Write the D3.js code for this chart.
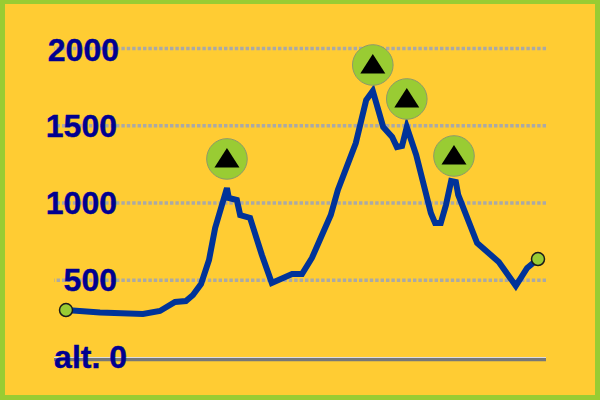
<!DOCTYPE html>
<html lang="en">
<head>
  <meta charset="UTF-8" />
  <title>Altitude profile</title>
  <script src="https://d3js.org/d3.v7.min.js" charset="utf-8"></script>
  <style type="text/css">
  html, body { margin: 0; padding: 0; }
  svg { display: block; }
  .axis path.domain { stroke: none; }
  .axis text {
    font: bold 32px "Liberation Sans", Arial, sans-serif;
    fill: #000090;
    stroke: #000090;
    stroke-width: 0.4;
  }
  .axis .tick line {
    stroke: #aaa9a6;
    stroke-width: 3.5;
    stroke-dasharray: 3.4,2;
  }
  .axis .tick.zero line {
    stroke: #777;
    stroke-dasharray: none;
  }
  .axis .tick.zero line.shine {
    stroke: #ddd;
    stroke-width: 1.2;
  }
  </style>
</head>
<body>
<script type="text/javascript">

// distance along the route (km) and altitude (m)
var distance = [0, 7.2, 16.3, 19.9, 23.1, 25.4, 26.9, 28.6, 30.3, 31.6, 34.1, 34.5, 36.2, 36.9, 39,
  41.5, 43.6, 47.9, 50, 52.1, 56.1, 57.6, 61.4, 63.6, 65, 67.2, 69.1, 70.1, 71.2, 72.2, 74.2,
  77.3, 78.2, 79.4, 80.5, 81.6, 82.6, 83.1, 87.1, 91.7, 95.3, 97.7, 100];
var altitude = [304, 288, 278, 298, 356, 362, 401, 472, 628, 835, 1094, 1029, 1016, 919, 900,
  660, 479, 537, 537, 641, 919, 1081, 1385, 1663, 1722, 1489, 1424, 1359, 1366, 1489, 1307,
  932, 867, 867, 984, 1139, 1133, 1049, 738, 615, 460, 576, 634];

var tickValues = [0, 500, 1000, 1500, 2000];
var tickLabels = ["alt. 0", "500", "1000", "1500", "2000"];

// summit badges
var peakDistance = [34.1, 65, 72.2, 82.2];
var peakBadgeAltitude = [1282, 1890, 1670, 1301];

var width = 600,
    height = 400;

var x = d3.scaleLinear().domain([0, 100]).range([66, 538]);
var y = d3.scaleLinear().domain([0, 2000]).range([357, 48]);

var svg = d3.select("body").append("svg")
  .attr("width", width)
  .attr("height", height);

svg.append("rect")
  .attr("width", width)
  .attr("height", height)
  .attr("fill", "#99cc33");

svg.append("rect")
  .attr("x", 5)
  .attr("y", 4)
  .attr("width", 590)
  .attr("height", 391)
  .attr("fill", "#ffcc33");

var axis = svg.append("g")
  .attr("class", "axis")
  .attr("transform", "translate(546,0)")
  .call(d3.axisLeft(y)
    .tickValues(tickValues)
    .tickSize(492)
    .tickPadding(-63)
    .tickFormat(function(d, i) { return tickLabels[i]; }));

axis.selectAll(".tick")
  .classed("zero", function(d) { return d === 0; });

// baseline sits a bit under its tick, with a thin light edge on top
axis.select(".tick.zero line")
  .attr("y1", 2)
  .attr("y2", 2);

axis.select(".tick.zero").insert("line", "text")
  .attr("class", "shine")
  .attr("x2", -492)
  .attr("y1", 0)
  .attr("y2", 0);

// 0 label hangs past the others, 2000 a little too
axis.selectAll(".tick text")
  .attr("dx", function(d) { return d === 0 ? 10 : d === 2000 ? 2 : 0; })
  .attr("dy", function(d) { return d === 2000 ? "0.4em" : "0.34em"; });

var points = distance.map(function(d, i) { return [d, altitude[i]]; });

var line = d3.line()
  .x(function(d) { return x(d[0]); })
  .y(function(d) { return y(d[1]); });

svg.append("path")
  .datum(points)
  .attr("fill", "none")
  .attr("stroke", "#003399")
  .attr("stroke-width", 6)
  .attr("stroke-linejoin", "miter")
  .attr("d", line);

svg.selectAll(".end")
  .data([points[0], points[points.length - 1]])
  .enter().append("circle")
    .attr("class", "end")
    .attr("cx", function(d) { return x(d[0]); })
    .attr("cy", function(d) { return y(d[1]); })
    .attr("r", 6.5)
    .attr("fill", "#99cc33")
    .attr("stroke", "#1a1a1a")
    .attr("stroke-width", 1.5);

var badge = svg.selectAll(".badge")
  .data(peakDistance)
  .enter().append("g")
    .attr("class", "badge")
    .attr("transform", function(d, i) {
      return "translate(" + x(d) + "," + y(peakBadgeAltitude[i]) + ")";
    });

badge.append("circle")
  .attr("r", 20.3)
  .attr("fill", "#99cc33")
  .attr("stroke", "#8c9a6a")
  .attr("stroke-width", 1);

badge.append("polygon")
  .attr("points", "0,-11 12.5,8.5 -12.5,8.5")
  .attr("fill", "#000");

</script>
</body>
</html>
